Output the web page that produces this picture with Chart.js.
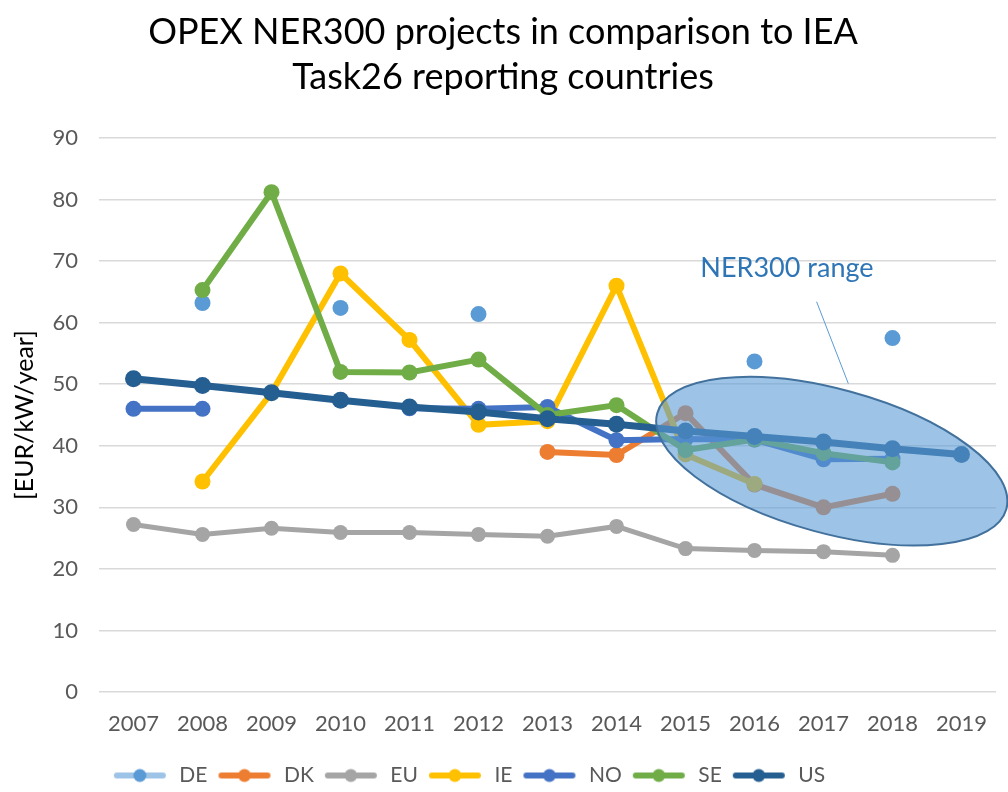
<!DOCTYPE html>
<html>
<head>
<meta charset="utf-8">
<script src="https://cdn.jsdelivr.net/npm/chart.js@4.4.1/dist/chart.umd.min.js"></script>
<style>
  html, body { margin: 0; padding: 0; background: #fff; }
  #wrap { width: 1008px; height: 792px; }
</style>
</head>
<body>
<div id="wrap"><canvas id="opex"></canvas></div>
<script>
// values, EUR/kW/year
const years = ['2007', '2008', '2009', '2010', '2011', '2012', '2013', '2014', '2015', '2016', '2017', '2018', '2019'];
const yTicks = [0, 10, 20, 30, 40, 50, 60, 70, 80, 90];
const de = [null, 63.2, null, 62.4, null, 61.4, null, null, null, 53.7, null, 57.5, null];
const dk = [null, null, null, null, null, null, 39.0, 38.5, 45.3, 33.7, 30.0, 32.2, null];
const eu = [27.2, 25.6, 26.6, 25.9, 25.9, 25.6, 25.3, 26.9, 23.3, 23.0, 22.8, 22.2, null];
const ie = [null, 34.2, 48.6, 68.0, 57.2, 43.4, 44.0, 66.0, 38.6, 33.8, null, null, null];
const no = [46.0, 46.0, null, null, 46.1, 46.0, 46.3, 40.9, 41.1, 41.0, 37.8, 37.9, null];
const se = [null, 65.3, 81.2, 52.0, 51.9, 54.0, 45.0, 46.6, 39.3, 41.0, 38.8, 37.3, null];
const us = [50.9, 49.8, 48.6, 47.4, 46.3, 45.5, 44.4, 43.5, 42.4, 41.5, 40.6, 39.5, 38.6];

const FONT = "Lato, 'Open Sans', sans-serif";

// little "line + dot" swatch like the Excel legend
function legendMark(lineColor, dotColor) {
    const c = document.createElement('canvas');
    c.width = 58; c.height = 16;
    const g = c.getContext('2d');
    g.strokeStyle = lineColor;
    g.lineWidth = 6;
    g.lineCap = 'round';
    g.beginPath(); g.moveTo(6, 8); g.lineTo(52, 8); g.stroke();
    g.fillStyle = dotColor;
    g.beginPath(); g.arc(29, 8, 6.5, 0, Math.PI * 2); g.fill();
    return c;
}

function series(label, data, color, width, radius, order) {
    return {
        label: label,
        data: data,
        borderColor: color,
        backgroundColor: color,
        pointBackgroundColor: color,
        pointBorderWidth: 0,
        pointRadius: radius,
        pointHoverRadius: radius,
        borderWidth: width,
        tension: 0,
        spanGaps: false,
        order: order
    };
}

// ellipse + label "NER300 range", drawn over the lines like the Excel shape
const ner300Range = {
    id: 'ner300Range',
    afterLayout(chart) {
        // Excel legend sits a bit left of centre and lower
        chart.legend.left -= 35;
        chart.legend.right -= 35;
        chart.legend.top += 4;
        chart.legend.bottom += 4;
    },
    afterDatasetsDraw(chart) {
        const ctx = chart.ctx;
        const x = chart.scales.x, y = chart.scales.y;
        const cx = x.getPixelForValue(10.12), cy = y.getPixelForValue(37.5);
        ctx.save();
        ctx.translate(cx, cy);
        ctx.rotate(15.3 * Math.PI / 180);
        ctx.beginPath();
        ctx.ellipse(0, 0, 181, 72, 0, 0, Math.PI * 2);
        ctx.fillStyle = 'rgba(91, 155, 213, 0.6)';
        ctx.fill();
        ctx.lineWidth = 2;
        ctx.strokeStyle = '#41719C';
        ctx.stroke();
        ctx.restore();

        ctx.save();
        ctx.strokeStyle = '#5B9BD5';
        ctx.lineWidth = 1;
        ctx.beginPath();
        ctx.moveTo(x.getPixelForValue(9.9), y.getPixelForValue(63.4));
        ctx.lineTo(x.getPixelForValue(10.36), y.getPixelForValue(50.1));
        ctx.stroke();
        ctx.fillStyle = '#2E75B6';
        ctx.font = '27px ' + FONT;
        ctx.textAlign = 'center';
        ctx.textBaseline = 'middle';
        ctx.fillText('NER300 range', x.getPixelForValue(9.47), y.getPixelForValue(68.8));
        ctx.restore();
    }
};

const ctx = document.getElementById('opex').getContext('2d');
const chart = new Chart(ctx, {
    type: 'line',
    data: {
        labels: years,
        datasets: [
            series('DE', de, '#5B9BD5', 6, 8, 7),
            series('DK', dk, '#ED7D31', 6, 8, 6),
            series('EU', eu, '#A5A5A5', 5, 7.5, 5),
            series('IE', ie, '#FFC000', 6, 8, 4),
            series('NO', no, '#4472C4', 6, 8, 3),
            series('SE', se, '#70AD47', 6, 8, 2),
            series('US', us, '#255E91', 7, 8.5, 1)
        ]
    },
    options: {
        responsive: true,
        maintainAspectRatio: false,
        animation: false,
        layout: { padding: { left: 10, right: 12, top: 0, bottom: 0 } },
        plugins: {
            title: {
                display: true,
                text: ['OPEX NER300 projects in comparison to IEA', 'Task26 reporting countries'],
                color: '#000',
                font: { family: FONT, size: 36, weight: 'normal', lineHeight: 1.25 },
                padding: { top: 10, bottom: 38 }
            },
            legend: {
                position: 'bottom',
                labels: {
                    usePointStyle: true,
                    pointStyleWidth: 58,
                    padding: 8,
                    color: '#595959',
                    font: { family: FONT, size: 21 },
                    generateLabels(chart) {
                        return chart.data.datasets.map(function (ds, i) {
                            const line = ds.label === 'DE' ? '#9DC3E6' : ds.borderColor;
                            return {
                                text: ds.label,
                                pointStyle: legendMark(line, ds.borderColor),
                                fillStyle: ds.borderColor,
                                strokeStyle: ds.borderColor,
                                lineWidth: 0,
                                fontColor: '#595959',
                                hidden: false,
                                datasetIndex: i
                            };
                        });
                    }
                }
            },
            tooltip: { enabled: false }
        },
        scales: {
            x: {
                offset: true,
                afterFit(axis) { axis.height = 61; },
                grid: { display: false },
                border: { display: false },
                ticks: { color: '#595959', font: { family: FONT, size: 22 }, padding: 11, maxRotation: 0 }
            },
            y: {
                min: 0,
                max: 90,
                afterBuildTicks(axis) { axis.ticks = yTicks.map(v => ({ value: v })); },
                afterFit(axis) { axis.width = 89; },
                grid: { color: '#D9D9D9', lineWidth: 1.5, drawTicks: false },
                border: { display: false },
                ticks: { color: '#595959', font: { family: FONT, size: 22 }, padding: 21 },
                title: {
                    display: true,
                    text: '[EUR/kW/year]',
                    color: '#000',
                    font: { family: FONT, size: 25 },
                    padding: 0
                }
            }
        }
    },
    plugins: [ner300Range]
});
</script>
</body>
</html>
